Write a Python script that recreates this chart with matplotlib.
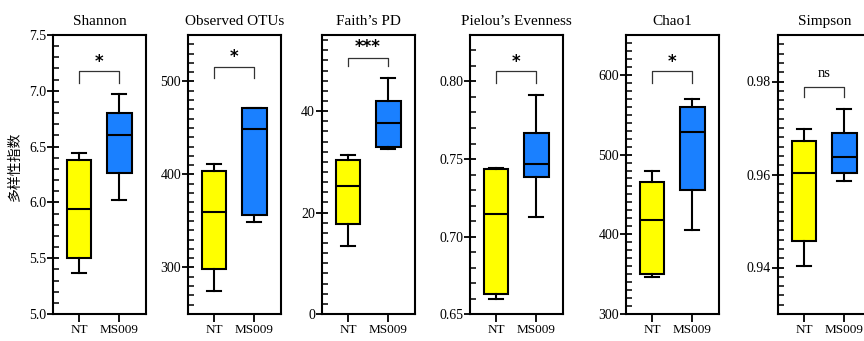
import matplotlib
matplotlib.use("Agg")
import matplotlib.pyplot as plt
from matplotlib.ticker import MultipleLocator, FormatStrFormatter

plt.rcParams['font.family'] = ['Liberation Serif', 'DejaVu Serif']

# five-number summaries per group: (whislo, q1, med, q3, whishi)
groups = ["NT", "MS009"]
titles = ["Shannon", "Observed OTUs", "Faith\u2019s PD", "Pielou\u2019s Evenness", "Chao1", "Simpson"]

shannon_nt = [5.37, 5.50, 5.94, 6.38, 6.44]
shannon_ms = [6.02, 6.26, 6.60, 6.80, 6.97]
otus_nt = [275, 298, 360, 404, 411]
otus_ms = [349, 356, 449, 471, 471]
faith_nt = [13.5, 17.8, 25.3, 30.3, 31.4]
faith_ms = [32.6, 33.0, 37.6, 42.0, 46.6]
pielou_nt = [0.660, 0.663, 0.7145, 0.7433, 0.744]
pielou_ms = [0.7125, 0.7386, 0.7468, 0.7666, 0.7916]
chao1_nt = [346, 350, 418, 465, 479]
chao1_ms = [406, 456, 528, 560, 570]
simpson_nt = [0.9404, 0.9457, 0.9603, 0.9672, 0.9697]
simpson_ms = [0.9587, 0.9603, 0.9638, 0.9689, 0.9741]

# significance labels and bracket heights (top, leg end, label)
sig_labels = ["*", "*", "***", "*", "*", "ns"]
bracket_y = [(7.178, 7.07, 7.26), (516, 504, 526), (50.5, 48.8, 52.6),
             (0.8065, 0.7991, 0.8125), (605, 590, 616), (0.9789, 0.9766, 0.9803)]

ylims = [(5.0, 7.5), (250, 550), (0, 55), (0.65, 0.83), (300, 650), (0.93, 0.99)]
major = [0.5, 100, 20, 0.05, 100, 0.02]
minor = [0.1, 10, 2, 0.01, 10, 0.002]
fmts = ["%.1f", "%d", "%d", "%.2f", "%d", "%.2f"]

data = [(shannon_nt, shannon_ms), (otus_nt, otus_ms), (faith_nt, faith_ms),
        (pielou_nt, pielou_ms), (chao1_nt, chao1_ms), (simpson_nt, simpson_ms)]

colors = ["#FFFF00", "#1A80FF"]
lefts = [53, 188, 322, 470, 626, 778]

W, H = 864, 341
fig = plt.figure(figsize=(W / 100, H / 100), dpi=100)

for i in range(6):
    ax = fig.add_axes([lefts[i] / W, 1 - 314 / H, 93 / W, 279 / H])
    stats = []
    for g, vals in zip(groups, data[i]):
        lo, q1, med, q3, hi = vals
        stats.append(dict(label=g, whislo=lo, q1=q1, med=med, q3=q3, whishi=hi, fliers=[]))
    bp = ax.bxp(stats, positions=[1, 2], widths=0.62, capwidths=0.36, patch_artist=True,
                boxprops=dict(linewidth=1.5, edgecolor="black"),
                medianprops=dict(color="black", linewidth=1.5),
                whiskerprops=dict(color="black", linewidth=1.5),
                capprops=dict(color="black", linewidth=1.5), showfliers=False)
    for patch, c in zip(bp["boxes"], colors):
        patch.set_facecolor(c)

    ax.set_xlim(0.35, 2.67)
    ax.set_ylim(*ylims[i])
    ax.yaxis.set_major_locator(MultipleLocator(major[i]))
    ax.yaxis.set_minor_locator(MultipleLocator(minor[i]))
    ax.yaxis.set_major_formatter(FormatStrFormatter(fmts[i]))
    ax.tick_params(axis="y", which="major", direction="inout", length=8, width=1.3, labelsize=10, pad=1)
    ax.tick_params(axis="y", which="minor", direction="in", length=4, width=1.1)
    ax.tick_params(axis="x", which="major", direction="out", length=5.5, width=1.3, labelsize=9.5, pad=2)
    ax.set_xticks([1, 2])
    ax.set_xticklabels(groups)
    for sp in ax.spines.values():
        sp.set_linewidth(1.5)
    ax.set_title(titles[i], fontsize=11, pad=7)

    top, leg, lab = bracket_y[i]
    ax.plot([1, 1, 2, 2], [leg, top, top, leg], color="#333333", linewidth=0.9)
    if sig_labels[i] == "ns":
        ax.text(1.5, lab, "ns", ha="center", va="bottom", fontsize=10.5)
    else:
        ax.text(1.5, lab, sig_labels[i], ha="center", va="center", fontsize=12, fontweight="bold",
                family="DejaVu Sans")

fig.text(15 / W, 1 - 166 / H, "多样性指数", rotation=90, ha="center", va="center",
         fontsize=10, family=["Noto Sans CJK SC", "DejaVu Sans"])

fig.savefig("out.png", dpi=100)
